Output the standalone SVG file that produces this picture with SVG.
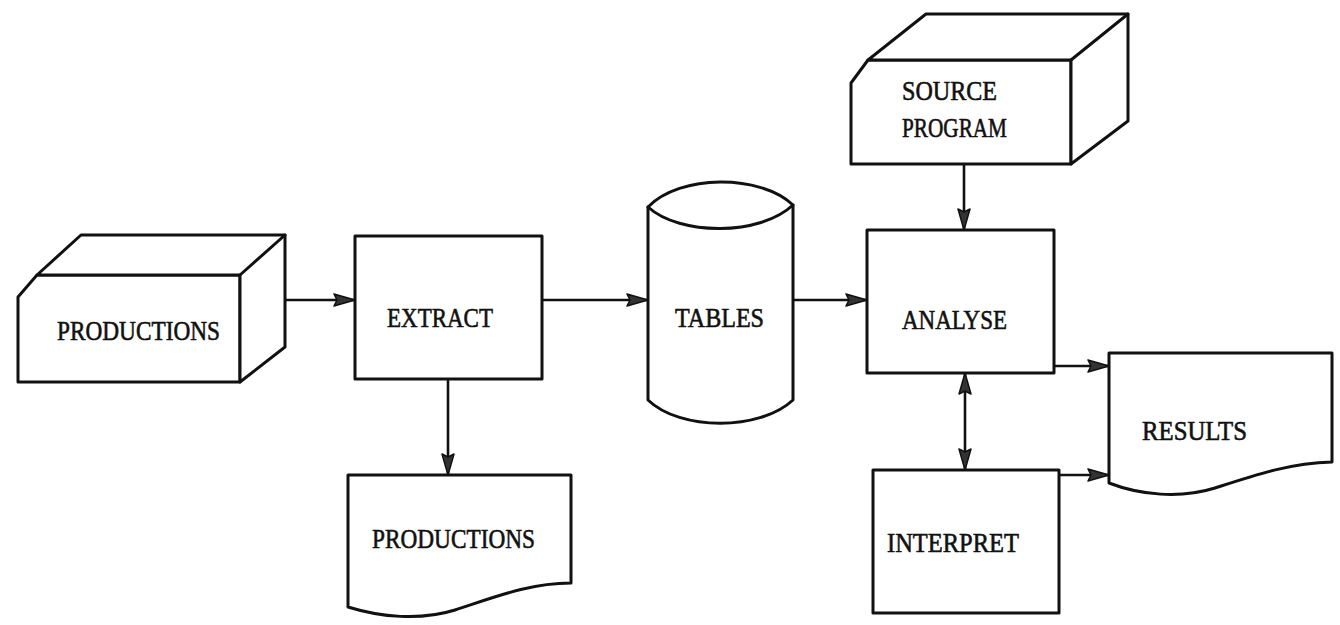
<svg xmlns="http://www.w3.org/2000/svg" width="1340" height="625" viewBox="0 0 1340 625">
<style>
.shape{fill:#fff;stroke:#111;stroke-width:3;stroke-linejoin:round;stroke-linecap:round}
.edge{fill:none;stroke:#111;stroke-width:3;stroke-linejoin:round;stroke-linecap:round}
.conn{fill:none;stroke:#111;stroke-width:2.6;marker-end:url(#ah)}
.lbl{font-family:"Liberation Serif","DejaVu Serif",serif;font-size:27px;fill:#111;stroke:#111;stroke-width:0.6}
</style>
<defs>
<marker id="ah" markerUnits="userSpaceOnUse" markerWidth="26" markerHeight="18" refX="22" refY="7" orient="auto-start-reverse">
<path d="M1,1 L22,7 L1,13 L4,7 Z" fill="#333" stroke="#111" stroke-width="1.5" stroke-linejoin="round"/>
</marker>
</defs>
<rect width="1340" height="625" fill="#fff"/>
<g id="connectors">
<line class="conn" x1="285" y1="300" x2="355" y2="300"/>
<line class="conn" x1="542" y1="300" x2="648" y2="300"/>
<line class="conn" x1="793" y1="300" x2="867" y2="300"/>
<line class="conn" x1="448" y1="379" x2="448" y2="475"/>
<line class="conn" x1="964" y1="165" x2="964" y2="230"/>
<line class="conn" x1="965" y1="373" x2="965" y2="470" marker-start="url(#ah)"/>
<line class="conn" x1="1054" y1="366" x2="1109" y2="366"/>
<line class="conn" x1="1059" y1="475" x2="1109" y2="475"/>
</g>
<g id="productions-in">
<path class="shape" d="M18,297 L37,275 L240,275 L240,382 L18,382 Z"/>
<path class="shape" d="M37,275 L81,235 L285,235 L285,347 L240,382 L240,275 Z"/>
<path class="edge" d="M240,275 L285,235"/>
<text class="lbl" x="57" y="340" textLength="163" lengthAdjust="spacingAndGlyphs">PRODUCTIONS</text>
</g>
<g id="extract">
<rect class="shape" x="355" y="236" width="187" height="143"/>
<text class="lbl" x="387" y="327" textLength="106" lengthAdjust="spacingAndGlyphs">EXTRACT</text>
</g>
<g id="tables">
<path class="shape" d="M648,207 C680,174 760,174 793,205 L793,400 C760,431 680,431 648,400 Z"/>
<path class="edge" d="M648,207 C680,236 760,236 793,205"/>
<text class="lbl" x="675" y="327" textLength="89" lengthAdjust="spacingAndGlyphs">TABLES</text>
</g>
<g id="source-program">
<path class="shape" d="M851,83 L868,60 L1071,60 L1071,164 L851,164 Z"/>
<path class="shape" d="M868,60 L926,14 L1128,14 L1128,121 L1071,164 L1071,60 Z"/>
<path class="edge" d="M1071,60 L1128,14"/>
<text class="lbl" x="902" y="100" textLength="95" lengthAdjust="spacingAndGlyphs">SOURCE</text>
<text class="lbl" x="902" y="137" textLength="105" lengthAdjust="spacingAndGlyphs">PROGRAM</text>
</g>
<g id="analyse">
<rect class="shape" x="867" y="230" width="187" height="143"/>
<text class="lbl" x="902" y="329" textLength="105" lengthAdjust="spacingAndGlyphs">ANALYSE</text>
</g>
<g id="interpret">
<rect class="shape" x="873" y="470" width="186" height="143"/>
<text class="lbl" x="887" y="552" textLength="132" lengthAdjust="spacingAndGlyphs">INTERPRET</text>
</g>
<g id="results">
<path class="shape" d="M1109,483 L1109,353 L1332,353 L1332,462 C1290,463 1255,475 1215,488 C1180,499 1140,495 1109,483 Z"/>
<text class="lbl" x="1142" y="440" textLength="105" lengthAdjust="spacingAndGlyphs">RESULTS</text>
</g>
<g id="productions-out">
<path class="shape" d="M348,607 L348,475 L571,475 L571,583 C530,583 495,597 455,610 C420,621 380,617 348,607 Z"/>
<text class="lbl" x="372" y="548" textLength="163" lengthAdjust="spacingAndGlyphs">PRODUCTIONS</text>
</g>
</svg>
